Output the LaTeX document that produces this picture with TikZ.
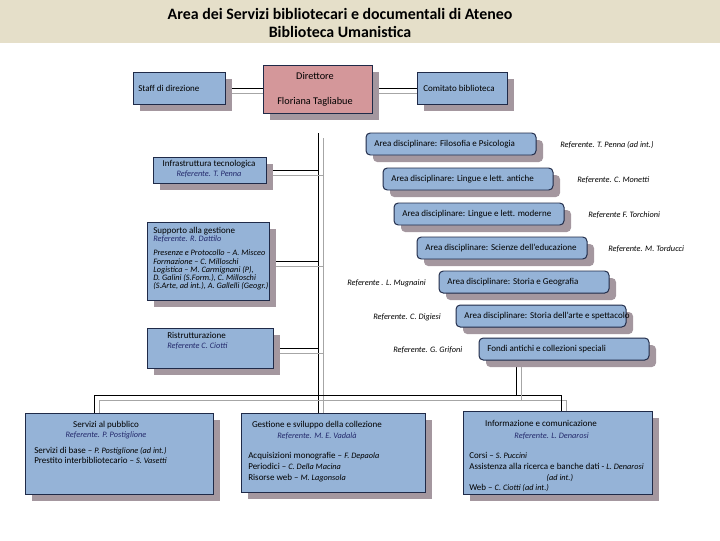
\documentclass[tikz,border=0pt]{standalone}
\usepackage{fontspec}
\setmainfont{Carlito}
\usetikzlibrary{fit,shadows,backgrounds,calc}
\definecolor{titlebg}{HTML}{E5DFC9}
\definecolor{boxblue}{HTML}{95B3D7}
\definecolor{boxline}{HTML}{1F2A48}
\definecolor{dirpink}{HTML}{D4979A}
\definecolor{boxshadow}{HTML}{A4979F}
\definecolor{linkshadow}{HTML}{A6A6A6}
\definecolor{refnavy}{HTML}{23296B}
\newcommand\unitfont{\fontsize{6.4}{7.1}\selectfont}
\newcommand\pers[1]{{\fontsize{5.9}{7.1}\selectfont\itshape #1}}
\newcommand\refline[1]{{\color{refnavy}\pers{#1}}}
\tikzset{
  unit/.style={draw=boxline,fill=boxblue,line width=0.7pt,inner sep=0pt,
    general shadow={fill=boxshadow,shadow xshift=5pt,shadow yshift=-5pt}},
  dirunit/.style={unit,fill=dirpink},
  areaunit/.style={unit,rounded corners=3pt},
  txt/.style={inner sep=0pt,font=\unitfont,align=left},
  outref/.style={txt,font=\fontsize{5.9}{7.1}\selectfont\itshape,anchor=west},
  titletxt/.style={inner sep=0pt,align=center,font=\fontsize{11.3}{12.8}\selectfont\bfseries},
  link/.style={draw=black,line width=0.7pt,
    preaction={draw=linkshadow,line width=0.7pt,transform canvas={xshift=4.2pt,yshift=-3.6pt}}},
}
\begin{document}
\begin{tikzpicture}[x=0.025cm,y=-0.025cm]
  \useasboundingbox (0,0) rectangle (720,540);
  \node[titletxt] (title) at (340,23) {Area dei Servizi bibliotecari e documentali di Ateneo\\Biblioteca Umanistica};

  % direzione
  \node[dirunit,fit={(263,65) (372,113)}] (dir) {};
  \node[txt,align=center,font=\fontsize{7.3}{8}\selectfont] at (315,89) {Direttore\\[9.8pt]Floriana Tagliabue};
  \node[unit,fit={(133,72) (225,104)}] (staff) {};
  \node[txt,anchor=west] at (138,88) {Staff di direzione};
  \node[unit,fit={(417,72) (507,104)}] (comit) {};
  \node[txt,anchor=west] at (423,88) {Comitato biblioteca};

  % staff laterale
  \node[unit,fit={(153,157) (266,183)}] (infra) {};
  \node[txt,align=center] at (209,169) {Infrastruttura tecnologica\\\refline{Referente. T. Penna}};
  \node[unit,fit={(147,222) (269,300)}] (supp) {};
  \node[txt,anchor=north west,font=\fontsize{6.4}{5.9}\selectfont] at (153,227) {Supporto alla gestione\\\refline{Referente. R. Dattilo}\\[4pt]
    \pers{Presenze e Protocollo – A. Misceo}\\\pers{Formazione – C. Milloschi}\\\pers{Logistica – M. Carmignani (P),}\\
    \pers{D. Galini (S.Form.), C. Milloschi}\\\pers{(S.Arte, ad int.), A. Gallelli (Geogr.)}};
  \node[unit,fit={(147,328) (273,368)}] (ristr) {};
  \node[txt,anchor=west] at (167,341) {Ristrutturazione\\\refline{Referente C. Ciotti}};

  % aree disciplinari
  \foreach \nm/\x/\y/\lab/\rx/\rlab in {
      filo/366/133/{Area disciplinare: Filosofia e Psicologia}/560/{Referente. T.  Penna (ad int.)},
      antiche/383/168/{Area disciplinare: Lingue e lett. antiche}/577/{Referente. C. Monetti},
      moderne/394/203/{Area disciplinare: Lingue e lett. moderne}/588/{Referente F. Torchioni},
      educ/417/237/{Area disciplinare: Scienze dell'educazione}/608/{Referente. M. Torducci},
      geo/439/271/{Area disciplinare: Storia e Geografia}/347/{Referente . L. Mugnaini},
      arte/456/305/{Area disciplinare: Storia dell'arte e spettacolo}/373/{Referente. C. Digiesi},
      fondi/479/338/{Fondi antichi e collezioni speciali}/393/{Referente. G. Grifoni}} {
    \node[areaunit,fit={(\x,\y) (\x+170,\y+22)}] (\nm) {};
    \node[txt,anchor=west] at (\x+8,\y+11) {\lab};
    \node[outref] at (\rx,\y+12) {\rlab};
  }

  % servizi
  \node[unit,fit={(25,413) (213,494)}] (serv) {};
  \node[txt,align=center] at (106,430) {Servizi al pubblico\\\refline{Referente. P. Postiglione}};
  \node[txt,anchor=west] at (34,455) {Servizi di base – \pers{P. Postiglione (ad int.)}\\Prestito interbibliotecario – \pers{S. Vasetti}};
  \node[unit,fit={(241,413) (425,492)}] (gest) {};
  \node[txt,align=center] at (317,430) {Gestione e sviluppo della collezione\\[0.6pt]\refline{Referente. M. E. Vadalà}};
  \node[txt,anchor=west] at (248,467) {Acquisizioni monografie – \pers{F. Depaola}\\[0.9pt]Periodici – \pers{C. Della Macina}\\[0.9pt]Risorse web – \pers{M. Lagonsola}};
  \node[unit,fit={(463,411) (652,494)}] (info) {};
  \node[txt,align=center] at (541,430) {Informazione e comunicazione\\[1.2pt]\hspace*{15pt}\refline{Referente. L. Denarosi}};
  \node[txt,anchor=north west] at (469,452) {Corsi – \pers{S. Puccini}\\[0.6pt]Assistenza alla ricerca e banche dati - \pers{L. Denarosi}\\[0.6pt]
    \hspace*{55pt}\pers{(ad int.)}\\[0.6pt]Web – \pers{C. Ciotti (ad int.)}};

  \coordinate (spine) at (318,133);
  \coordinate (busL) at (94,395);
  \coordinate (busR) at (561,395);
  \coordinate (busF) at (516,395);

  \begin{scope}[on background layer]
    \fill[titlebg] (0,0) rectangle (720,43);
    \draw[link] (staff.east) -- (staff.east -| dir.west);
    \draw[link] (dir.east |- comit.west) -- (comit.west);
    \draw[link] (spine) -- (spine |- gest.north);
    \draw[link] (infra.east) -- (infra.east -| spine);
    \draw[link] (supp.east) -- (supp.east -| spine);
    \draw[link] (ristr.east) -- (ristr.east -| spine);
    \draw[link] (busL |- serv.north) -- (busL) -- (busR) -- (busR |- info.north);
    \draw[link] (fondi.south -| busF) -- (busF);
  \end{scope}
\end{tikzpicture}
\end{document}
